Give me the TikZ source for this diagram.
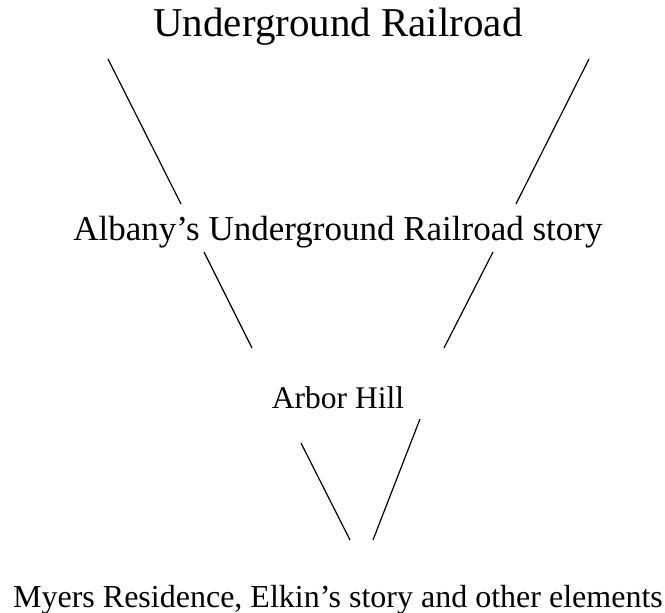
\documentclass[tikz,border=0pt]{standalone}
\usepackage{fontspec}
\setmainfont{Liberation Serif}

\begin{document}
\begin{tikzpicture}[x=1pt, y=-1pt, line width=1.2pt, level node/.style={anchor=base, inner sep=0pt}]

            \useasboundingbox (0,0) rectangle (665,613);

            \node[level node, font=\fontsize{41}{49}\selectfont] at (338, 36) (top) {Underground Railroad};
            \node[level node, font=\fontsize{35}{42}\selectfont] at (338, 240) (city) {Albany’s Underground Railroad story};
            \node[level node, font=\fontsize{31.5}{38}\selectfont] at (338, 408) (hill) {Arbor Hill};
            \node[level node, font=\fontsize{32}{38}\selectfont] at (338, 607) (home) {Myers Residence, Elkin’s story and other elements};

            \coordinate (tl) at (108, 59);
            \coordinate (tr) at (589, 59);
            \coordinate (cl) at (181, 204);
            \coordinate (cr) at (516, 204);
            \coordinate (cl2) at (204, 252);
            \coordinate (cr2) at (493, 252);
            \coordinate (hl) at (252, 348);
            \coordinate (hr) at (444, 348);
            \coordinate (hl2) at (301, 443);
            \coordinate (hr2) at (420, 419);
            \coordinate (ml) at (350, 540);
            \coordinate (mr) at (373, 540);

            \path (tl) edge[draw] (cl);
            \path (tr) edge[draw] (cr);
            \path (cl2) edge[draw] (hl);
            \path (cr2) edge[draw] (hr);
            \path (hl2) edge[draw] (ml);
            \path (hr2) edge[draw] (mr);
        \end{tikzpicture}
\end{document}
